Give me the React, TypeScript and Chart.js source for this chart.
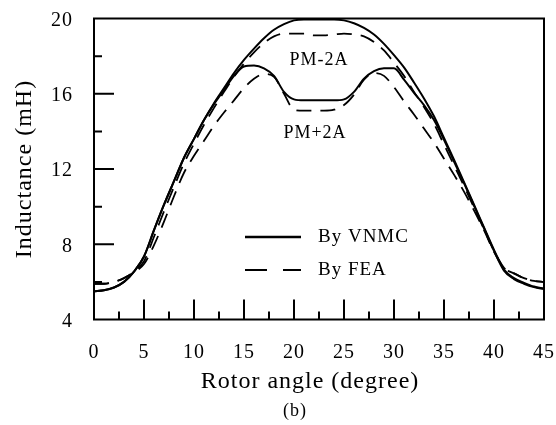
import { useEffect, useRef } from "react";
import { Chart, registerables } from "chart.js";

Chart.register(...registerables);

const FONT = "'Liberation Serif', 'DejaVu Serif', serif";

// Rotor angle (degree)
const ANGLES = [
  0, 1, 2, 3, 4, 5, 6, 7, 8, 9, 10, 11, 12, 13, 14, 15, 16, 17, 18, 19, 20, 21, 22,
  23, 24, 25, 26, 27, 28, 29, 30, 31, 32, 33, 34, 35, 36, 37, 38, 39, 40, 41, 42, 43,
  44, 45,
];

// Inductance (mH), PM-2A, by VNMC (solid)
const VNMC_PM_MINUS_2A = [
  5.5, 5.55, 5.7, 6.0, 6.55, 7.35, 8.75, 10.1, 11.35, 12.6, 13.6, 14.6, 15.5, 16.3,
  17.1, 17.8, 18.4, 18.95, 19.4, 19.7, 19.9, 19.95, 19.95, 19.95, 19.95, 19.9, 19.75,
  19.5, 19.15, 18.65, 18.05, 17.4, 16.6, 15.75, 14.8, 13.65, 12.5, 11.3, 10.1, 8.9,
  7.7, 6.65, 6.2, 5.95, 5.75, 5.65,
];

// Inductance (mH), PM+2A, by VNMC (solid)
const VNMC_PM_PLUS_2A = [
  5.5, 5.55, 5.7, 6.0, 6.55, 7.35, 8.75, 10.1, 11.35, 12.6, 13.6, 14.6, 15.45, 16.2,
  16.95, 17.45, 17.5, 17.35, 16.95, 16.1, 15.7, 15.65, 15.65, 15.65, 15.65, 15.7, 16.1,
  16.8, 17.2, 17.35, 17.35, 16.75, 16.05, 15.4, 14.6, 13.55, 12.4, 11.25, 10.05, 8.85,
  7.65, 6.6, 6.15, 5.9, 5.72, 5.62,
];

// Inductance (mH), PM-2A, by FEA (dashed)
const FEA_PM_MINUS_2A = [
  5.9, 5.9, 6.0, 6.2, 6.55, 7.1, 8.4, 9.75, 11.05, 12.3, 13.35, 14.35, 15.25, 16.1,
  16.9, 17.6, 18.2, 18.7, 19.05, 19.2, 19.2, 19.2, 19.1, 19.1, 19.15, 19.2, 19.15,
  19.05, 18.75, 18.3, 17.65, 16.95, 16.1, 15.3, 14.4, 13.3, 12.2, 11.1, 9.95, 8.8,
  7.65, 6.75, 6.45, 6.2, 6.05, 6.0,
];

// Inductance (mH), PM+2A, by FEA (dashed)
const FEA_PM_PLUS_2A = [
  5.9, 5.9, 6.0, 6.2, 6.5, 6.95, 7.95, 9.2, 10.55, 11.8, 12.7, 13.5, 14.3, 15.0,
  15.65, 16.3, 16.8, 17.05, 16.9, 16.0, 15.15, 15.1, 15.1, 15.1, 15.15, 15.4, 15.95,
  16.75, 17.1, 16.95, 16.35, 15.6, 14.9, 14.15, 13.4, 12.55, 11.7, 10.8, 9.8, 8.75,
  7.6, 6.75, 6.45, 6.2, 6.05, 6.0,
];

const X_MAJOR_TICKS = [5, 10, 15, 20, 25, 30, 35, 40];
const X_MINOR_TICKS = [2.5, 7.5, 12.5, 17.5, 22.5, 27.5, 32.5, 37.5, 42.5];
const Y_MAJOR_TICKS = [8, 12, 16];
const Y_MINOR_TICKS = [6, 10, 14, 18];

const LEGEND_LABELS = ["By VNMC", "By FEA"];
const CURVE_LABELS = ["PM-2A", "PM+2A"];
const X_TITLE = "Rotor angle (degree)";
const Y_TITLE = "Inductance (mH)";
const CAPTION = "(b)";

const toPoints = (vals: number[]) => ANGLES.map((a, i) => ({ x: a, y: vals[i] }));

const decorPlugin = {
  id: "decor",
  beforeDraw(chart: any) {
    chart.ctx.letterSpacing = "1px";
  },
  afterDraw(chart: any) {
    const { ctx, chartArea: a } = chart;
    const xs = chart.scales.x;
    const ys = chart.scales.y;
    ctx.save();
    ctx.letterSpacing = "1px";
    ctx.strokeStyle = "#000";
    ctx.fillStyle = "#000";
    ctx.lineWidth = 2;
    ctx.setLineDash([]);
    ctx.strokeRect(a.left, a.top, a.right - a.left, a.bottom - a.top);

    ctx.beginPath();
    Y_MAJOR_TICKS.forEach((v) => {
      const py = ys.getPixelForValue(v);
      ctx.moveTo(a.left, py);
      ctx.lineTo(a.left + 20, py);
    });
    Y_MINOR_TICKS.forEach((v) => {
      const py = ys.getPixelForValue(v);
      ctx.moveTo(a.left, py);
      ctx.lineTo(a.left + 8, py);
    });
    X_MAJOR_TICKS.forEach((v) => {
      const px = xs.getPixelForValue(v);
      ctx.moveTo(px, a.bottom);
      ctx.lineTo(px, a.bottom - 20);
    });
    X_MINOR_TICKS.forEach((v) => {
      const px = xs.getPixelForValue(v);
      ctx.moveTo(px, a.bottom);
      ctx.lineTo(px, a.bottom - 8);
    });
    ctx.stroke();

    // legend
    const lx0 = a.left + 151;
    const lx1 = a.left + 207;
    const ly0 = a.top + 218.5;
    const ly1 = a.top + 251.5;
    ctx.lineWidth = 2.5;
    ctx.beginPath();
    ctx.moveTo(lx0, ly0);
    ctx.lineTo(lx1, ly0);
    ctx.stroke();
    ctx.lineWidth = 2;
    ctx.setLineDash([22, 16]);
    ctx.beginPath();
    ctx.moveTo(lx0, ly1);
    ctx.lineTo(lx1, ly1);
    ctx.stroke();
    ctx.setLineDash([]);

    ctx.font = `19px ${FONT}`;
    ctx.textAlign = "left";
    ctx.textBaseline = "middle";
    ctx.fillText(LEGEND_LABELS[0], a.left + 224, ly0);
    ctx.fillText(LEGEND_LABELS[1], a.left + 224, ly1);

    // curve labels
    ctx.font = `18px ${FONT}`;
    ctx.textAlign = "center";
    ctx.fillText(CURVE_LABELS[0], a.left + 225, a.top + 41.5);
    ctx.fillText(CURVE_LABELS[1], a.left + 221, a.top + 114.5);

    // x title
    ctx.font = `24px ${FONT}`;
    ctx.fillText(X_TITLE, 310, 382);

    // caption
    ctx.font = `18px ${FONT}`;
    ctx.fillText(CAPTION, 295, 411);
    ctx.restore();
  },
};

export default function App() {
  const ref = useRef<HTMLCanvasElement | null>(null);

  useEffect(() => {
    document.body.style.margin = "0";
    if (!ref.current) return;
    const solid = {
      borderColor: "#000",
      borderWidth: 2,
      pointRadius: 0,
      fill: false,
      cubicInterpolationMode: "monotone" as const,
    };
    const dashed = { ...solid, borderWidth: 1.8, borderDash: [15, 9] };
    const chart = new Chart(ref.current, {
      type: "line",
      data: {
        datasets: [
          { label: "PM-2A By VNMC", data: toPoints(VNMC_PM_MINUS_2A), ...solid },
          { label: "PM+2A By VNMC", data: toPoints(VNMC_PM_PLUS_2A), ...solid },
          { label: "PM-2A By FEA", data: toPoints(FEA_PM_MINUS_2A), ...dashed },
          { label: "PM+2A By FEA", data: toPoints(FEA_PM_PLUS_2A), ...dashed },
        ],
      },
      options: {
        animation: false,
        responsive: false,
        devicePixelRatio: 1,
        layout: { padding: { top: 18.5, right: 12, left: 0, bottom: 0 } },
        plugins: {
          legend: { display: false },
          tooltip: { enabled: false },
          title: { display: false },
        },
        scales: {
          x: {
            type: "linear",
            min: 0,
            max: 45,
            ticks: {
              stepSize: 5,
              padding: 21.5,
              color: "#000",
              font: { family: FONT, size: 20 },
              maxRotation: 0,
            },
            grid: { display: false, drawTicks: false },
            border: { display: false },
            afterFit: (s: any) => {
              s.height = 105.5;
              s.paddingLeft = 0;
              s.paddingRight = 0;
            },
          },
          y: {
            type: "linear",
            min: 4,
            max: 20,
            ticks: {
              stepSize: 4,
              padding: 21,
              labelOffset: 2,
              color: "#000",
              font: { family: FONT, size: 20 },
            },
            grid: { display: false, drawTicks: false },
            border: { display: false },
            title: {
              display: true,
              text: Y_TITLE,
              color: "#000",
              font: { family: FONT, size: 24 },
              padding: { top: 10.6, bottom: 0 },
            },
            afterFit: (s: any) => {
              s.width = 94;
              s.paddingTop = 0;
              s.paddingBottom = 0;
            },
          },
        },
      },
      plugins: [decorPlugin],
    });
    return () => chart.destroy();
  }, []);

  return (
    <div style={{ width: 556, height: 425, position: "relative", background: "#fff" }}>
      <canvas ref={ref} width={556} height={425} />
    </div>
  );
}
